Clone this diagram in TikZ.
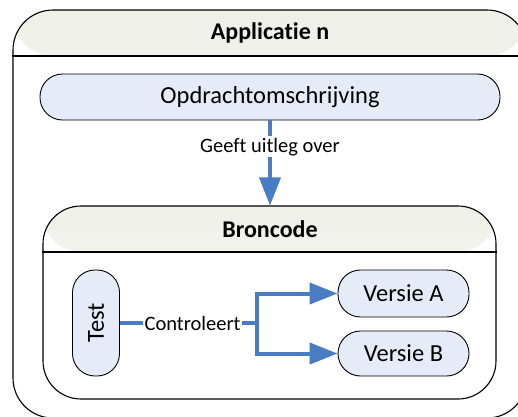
\documentclass[tikz,border=0pt]{standalone}
\usepackage{fontspec}
\setmainfont{Carlito}[Ligatures={TeX,NoCommon}]
\usetikzlibrary{arrows.meta}
\definecolor{nodefill}{HTML}{E6ECF7}
\definecolor{hdrtop}{HTML}{EFF0E8}
\definecolor{hdrbot}{HTML}{FDFDFB}
\definecolor{connblue}{HTML}{4A7CC4}
\tikzset{
  pill/.style={draw=black, line width=0.9pt, fill=nodefill, rounded corners=22.5pt, inner sep=0pt,
    font=\fontsize{24.5}{29}\selectfont},
  container/.style={draw=black, line width=1.1pt, inner sep=0pt,
    path picture={\shade[top color=hdrtop, bottom color=hdrbot]
      (path picture bounding box.north west) rectangle ([yshift=-46pt]path picture bounding box.north east);}},
  title/.style={font=\fontsize{24}{29}\selectfont\bfseries, inner sep=0pt},
  lbl/.style={font=\fontsize{20.5}{24}\selectfont, fill=white, inner sep=1.5pt},
  conn/.style={draw=connblue, line width=4pt},
  connarrow/.style={conn, -{Triangle[length=28pt,width=21pt]}},
}
\begin{document}
\begin{tikzpicture}[x=1pt,y=-1pt]
\useasboundingbox (0,0) rectangle (518,416);
\clip (0,0) rectangle (518,416);
% outer container
\node[container, rounded corners=40pt, minimum width=514pt, minimum height=408pt] (app) at (270,214) {};
\draw[line width=1.1pt] (app.west |- 0,56) -- (app.east |- 0,56);
\node[title] (apptitle) at (270,33) {Applicatie n};
% Opdrachtomschrijving
\node[pill, minimum width=460pt, minimum height=46pt] (opdr) at (270,97) {Opdrachtomschrijving};
% Broncode container
\node[container, rounded corners=38pt, minimum width=453pt, minimum height=193pt] (bron) at (269.5,302.5) {};
\draw[line width=1.1pt] (bron.west |- 0,252) -- (bron.east |- 0,252);
\node[title] (brontitle) at (270,229) {Broncode};
% inner nodes
\node[pill, minimum width=47pt, minimum height=106pt] (test) at (96,323) {\rotatebox{90}{Test}};
\node[pill, minimum width=131pt, minimum height=47pt] (versieA) at (403.5,293.5) {Versie A};
\node[pill, minimum width=131pt, minimum height=45pt] (versieB) at (403.5,353.5) {Versie B};
\coordinate (split) at (257,323);
% connectors
\draw[connarrow] (opdr.south) -- node[lbl, pos=0.31] (geeft) {Geeft uitleg over} (opdr.south |- bron.north);
\draw[conn] (test.east) -- node[lbl, pos=0.53] (contr) {Controleert} (split);
\draw[connarrow] (split) |- (versieA.west);
\draw[connarrow] (split) |- (versieB.west);
\end{tikzpicture}
\end{document}
